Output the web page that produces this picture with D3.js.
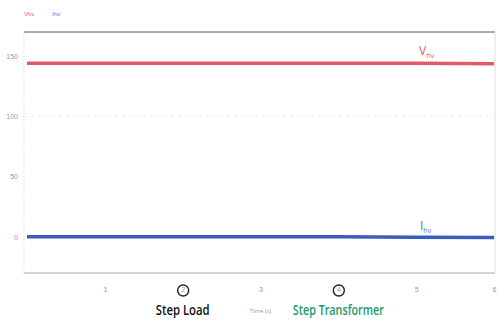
<!DOCTYPE html>
<html>
<head>
<meta charset="utf-8">
<script src="https://cdn.jsdelivr.net/npm/d3@7"></script>
<style>
  body { margin: 0; background: #fff; font-family: "Open Sans", sans-serif; }
  .axis text { fill: #999; font-size: 7px; }
</style>
</head>
<body>
<div id="chart"></div>
<script>
// data
var times = [0, 1, 2, 3, 4, 5, 6]
var vhv = [144, 144, 144, 144, 144, 144, 143.6]
var ihv = [0, 0, 0, 0, 0, -0.3, -0.6]
var yTicks = [0, 50, 100, 150]
var xTicks = [1, 2, 3, 4, 5, 6]
var circledTicks = [2, 4]

var width = 497, height = 320
var margin = {top: 32, right: 2, bottom: 47, left: 24}

var svg = d3.select("#chart").append("svg")
    .attr("width", width)
    .attr("height", height)

var x = d3.scaleLinear().domain([0, 6]).range([margin.left + 3, width - margin.right - 1])
var y = d3.scaleLinear().domain([-30, 170]).range([height - margin.bottom, margin.top])

// plot frame
svg.append("line")
    .attr("x1", margin.left).attr("x2", width - margin.right)
    .attr("y1", margin.top).attr("y2", margin.top)
    .attr("stroke", "#555").attr("stroke-width", 1)
svg.append("line")
    .attr("x1", margin.left).attr("x2", width - margin.right)
    .attr("y1", height - margin.bottom).attr("y2", height - margin.bottom)
    .attr("stroke", "#aaa").attr("stroke-width", 1)
svg.append("line")
    .attr("x1", margin.left).attr("x2", margin.left)
    .attr("y1", margin.top).attr("y2", height - margin.bottom)
    .attr("stroke", "#ccc").attr("stroke-dasharray", "1,2")
svg.append("line")
    .attr("x1", width - margin.right).attr("x2", width - margin.right)
    .attr("y1", margin.top).attr("y2", height - margin.bottom)
    .attr("stroke", "#ddd")

// faint grid at 100
svg.append("line")
    .attr("x1", margin.left).attr("x2", width - margin.right)
    .attr("y1", y(100)).attr("y2", y(100))
    .attr("stroke", "#ececec").attr("stroke-dasharray", "3,4")

// y axis
svg.append("g")
    .attr("class", "axis")
    .attr("transform", "translate(" + margin.left + ",0)")
    .call(d3.axisLeft(y).tickValues(yTicks).tickSize(0).tickPadding(6))
    .call(function(g) { g.select(".domain").remove() })

// x axis
var xAxis = svg.append("g")
    .attr("class", "axis")
    .attr("transform", "translate(0," + (height - margin.bottom) + ")")
    .call(d3.axisBottom(x).tickValues(xTicks).tickFormat(d3.format("d")).tickSize(0).tickPadding(14))
    .call(function(g) { g.select(".domain").remove() })

xAxis.selectAll(".tick")
    .filter(function(d) { return circledTicks.indexOf(d) >= 0 })
    .append("circle")
    .attr("cy", 17.5)
    .attr("r", 5.5)
    .attr("fill", "none")
    .attr("stroke", "#222")
    .attr("stroke-width", 1.4)

xAxis.selectAll(".tick")
    .filter(function(d) { return circledTicks.indexOf(d) >= 0 })
    .select("text").attr("fill", "#555")

// series lines
var line = d3.line()
    .x(function(d, i) { return x(times[i]) })
    .y(function(d) { return y(d) })

svg.append("path")
    .datum(vhv)
    .attr("d", line)
    .attr("fill", "none")
    .attr("stroke", "#e05a6a")
    .attr("stroke-width", 3.5)

svg.append("path")
    .datum(ihv)
    .attr("d", line)
    .attr("fill", "none")
    .attr("stroke", "#3a5dbf")
    .attr("stroke-width", 3.5)

// inline labels
var vLab = svg.append("text")
    .attr("x", 419).attr("y", y(144) - 8)
    .attr("fill", "#e05a6a").attr("font-size", 12)
vLab.append("tspan").text("V")
vLab.append("tspan").attr("font-size", 7).attr("dy", 3).text("hv")

var iLab = svg.append("text")
    .attr("x", 420).attr("y", y(0) - 7)
    .attr("fill", "#4a7fc8").attr("font-size", 12)
iLab.append("tspan").text("I")
iLab.append("tspan").attr("font-size", 7).attr("dy", 3).text("hv")

// legend
svg.append("text").attr("x", 24).attr("y", 16)
    .attr("font-size", 6).attr("fill", "#e05a6a").text("Vhv")
svg.append("text").attr("x", 52).attr("y", 16)
    .attr("font-size", 6).attr("fill", "#5a6fd0").text("Ihv")

// annotations under the axis
svg.append("text")
    .attr("x", x(2)).attr("y", 315)
    .attr("text-anchor", "middle")
    .attr("font-size", 14).attr("font-weight", 600).attr("fill", "#111")
    .attr("textLength", 54).attr("lengthAdjust", "spacingAndGlyphs")
    .text("Step Load")

svg.append("text")
    .attr("x", x(3)).attr("y", 313)
    .attr("text-anchor", "middle")
    .attr("font-size", 6).attr("fill", "#999")
    .text("Time (s)")

svg.append("text")
    .attr("x", x(4)).attr("y", 315)
    .attr("text-anchor", "middle")
    .attr("font-size", 14).attr("font-weight", 600).attr("fill", "#1a9a6c")
    .attr("textLength", 91).attr("lengthAdjust", "spacingAndGlyphs")
    .text("Step Transformer")
</script>
</body>
</html>
